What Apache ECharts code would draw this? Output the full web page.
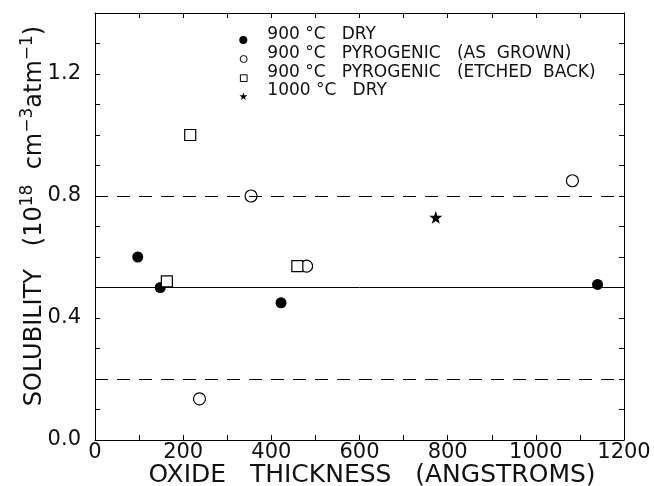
<!DOCTYPE html>
<html>
<head>
<meta charset="utf-8">
<script src="https://cdn.jsdelivr.net/npm/echarts@6/dist/echarts.min.js"></script>
<style>
  html, body { margin: 0; padding: 0; background: #fff; }
  #chart { width: 654px; height: 486px; }
</style>
</head>
<body>
<div id="chart"></div>
<script>
// x = oxide thickness (angstroms), y = solubility (10^18 cm^-3 atm^-1)
const dry900X = [97, 148, 422, 1140];
const dry900Y = [0.60, 0.50, 0.45, 0.51];
const grown900X = [237, 354, 480, 1083];
const grown900Y = [0.135, 0.80, 0.57, 0.85];
const etched900X = [163, 216, 459];
const etched900Y = [0.52, 1.00, 0.57];
const dry1000X = [773];
const dry1000Y = [0.73];

// horizontal reference lines
const refLevels = [0.2, 0.5, 0.8];
const refDashed = [true, false, true];

const seriesNames = [
  '900 °C   DRY',
  '900 °C   PYROGENIC   (AS  GROWN)',
  '900 °C   PYROGENIC   (ETCHED  BACK)',
  '1000 °C   DRY'
];

const FONT = 'DejaVu Sans';
const INK = '#111';
const STAR = 'path://M10 0 L12.351 6.764 L19.511 6.910 L13.804 11.236 L15.878 18.090 L10 14 L4.122 18.090 L6.196 11.236 L0.489 6.910 L7.649 6.764 Z';

// legend icons: an extra move-to above the shape so the marker sits on the text baseline
const LEG_DOT = 'path://M0 0 M0 17.5 A5 5 0 1 1 10 17.5 A5 5 0 1 1 0 17.5 Z';
const LEG_RING = 'path://M0 0 M0.8 17.5 A4.2 4.2 0 1 1 9.2 17.5 A4.2 4.2 0 1 1 0.8 17.5 Z';
const LEG_SQUARE = 'path://M0 0 M1 13.5 H9 V21.5 H1 Z';
const LEG_STAR = 'path://M0 0 M5 12.5 L6.18 15.88 L9.76 15.96 L6.9 18.12 L7.94 21.55 L5 19.5 L2.06 21.55 L3.1 18.12 L0.24 15.96 L3.82 15.88 Z';

const pairs = (xs, ys) => xs.map((x, i) => [x, ys[i]]);

const chart = echarts.init(document.getElementById('chart'));

// shared axis look: black frame, ticks pointing in
const lineStyle = { color: '#000', width: 1 };
const xBase = {
  type: 'value', min: 0, max: 1200, interval: 100,
  axisLine: { show: true, onZero: false, lineStyle },
  axisTick: { show: true, inside: true, length: 5, lineStyle },
  splitLine: { show: false }
};
const yBase = {
  type: 'value', min: 0, max: 1.4, interval: 0.1,
  axisLine: { show: true, onZero: false, lineStyle },
  axisTick: { show: true, inside: true, length: 5, lineStyle },
  splitLine: { show: false }
};
const openStyle = { color: '#fff', borderColor: '#000', borderWidth: 1, opacity: 1 };

const option = {
  animation: false,
  backgroundColor: '#fff',
  grid: { left: 95, right: 30, top: 13, bottom: 46, containLabel: false, outerBoundsMode: 'none' },
  legend: {
    orient: 'vertical',
    left: 234,
    top: 21,
    itemWidth: 38,
    itemHeight: 18,
    itemGap: 0,
    selectedMode: false,
    textStyle: { fontFamily: FONT, fontSize: 17, color: INK },
    data: [
      { name: seriesNames[0], icon: LEG_DOT },
      { name: seriesNames[1], icon: LEG_RING, itemStyle: openStyle },
      { name: seriesNames[2], icon: LEG_SQUARE, itemStyle: openStyle },
      { name: seriesNames[3], icon: LEG_STAR }
    ]
  },
  xAxis: [
    Object.assign({}, xBase, {
      position: 'bottom',
      axisLabel: {
        formatter: v => (v % 200 === 0 ? String(v) : ''),
        fontFamily: FONT, fontSize: 21, color: INK, margin: 2
      },
      name: 'OXIDE   THICKNESS   (ANGSTROMS)',
      nameLocation: 'middle',
      nameGap: 23,
      nameMoveOverlap: false,
      nameTextStyle: { fontFamily: FONT, fontSize: 25, color: INK, padding: [0, 0, 0, 25] }
    }),
    Object.assign({}, xBase, { position: 'top', axisLabel: { show: false } })
  ],
  yAxis: [
    Object.assign({}, yBase, {
      position: 'left',
      axisLabel: {
        formatter: v => (Math.round(v * 10) % 4 === 0 ? v.toFixed(1) : ''),
        fontFamily: FONT, fontSize: 21, color: INK, margin: 14
      },
      name: '{t|SOLUBILITY   (10}{s|18}{t|  cm}{s|−3}{t|atm}{s|−1}{t|)}',
      nameLocation: 'middle',
      nameRotate: 90,
      nameGap: 44,
      nameMoveOverlap: false,
      nameTextStyle: {
        padding: [0, 0, 0, 21],
        rich: {
          t: { fontFamily: FONT, fontSize: 24, color: INK },
          s: { fontFamily: FONT, fontSize: 17, color: INK, padding: [0, 0, 15, 0] }
        }
      }
    }),
    Object.assign({}, yBase, { position: 'right', axisLabel: { show: false } })
  ],
  series: [
    {
      name: seriesNames[0], type: 'scatter', symbol: 'circle', symbolSize: 11,
      itemStyle: { color: '#000', opacity: 1 },
      data: pairs(dry900X, dry900Y)
    },
    {
      name: seriesNames[1], type: 'scatter', symbol: 'circle', symbolSize: 12,
      itemStyle: Object.assign({}, openStyle, { borderWidth: 1.2 }),
      data: pairs(grown900X, grown900Y)
    },
    {
      name: seriesNames[2], type: 'scatter', symbol: 'rect', symbolSize: 11,
      itemStyle: Object.assign({}, openStyle, { borderWidth: 1.2 }),
      data: pairs(etched900X, etched900Y)
    },
    {
      name: seriesNames[3], type: 'scatter', symbol: STAR, symbolSize: 13,
      itemStyle: { color: '#000', opacity: 1 },
      data: pairs(dry1000X, dry1000Y)
    },
    {
      name: 'ref', type: 'scatter', data: [], z: 1,
      markLine: {
        silent: true,
        symbol: 'none',
        label: { show: false },
        data: refLevels.map((v, i) => ({
          yAxis: v,
          lineStyle: { color: '#000', width: 1, type: refDashed[i] ? [13, 9] : 'solid' }
        }))
      }
    }
  ]
};

chart.setOption(option);
</script>
</body>
</html>
